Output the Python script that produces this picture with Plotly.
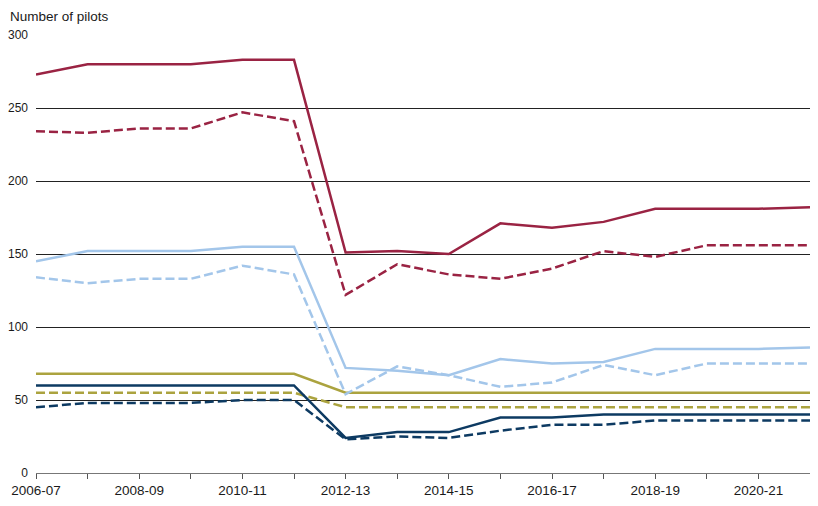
import plotly.graph_objects as go

years = ["2006-07", "2007-08", "2008-09", "2009-10", "2010-11", "2011-12", "2012-13", "2013-14",
         "2014-15", "2015-16", "2016-17", "2017-18", "2018-19", "2019-20", "2020-21", "2021-22"]
tick_text = [y if i % 2 == 0 else "" for i, y in enumerate(years)]

red_solid = [273, 280, 280, 280, 283, 283, 151, 152, 150, 171, 168, 172, 181, 181, 181, 182]
red_dash = [234, 233, 236, 236, 247, 241, 122, 143, 136, 133, 140, 152, 148, 156, 156, 156]
lblue_solid = [145, 152, 152, 152, 155, 155, 72, 70, 67, 78, 75, 76, 85, 85, 85, 86]
lblue_dash = [134, 130, 133, 133, 142, 136, 54, 73, 67, 59, 62, 74, 67, 75, 75, 75]
olive_solid = [68, 68, 68, 68, 68, 68, 55, 55, 55, 55, 55, 55, 55, 55, 55, 55]
olive_dash = [55, 55, 55, 55, 55, 55, 45, 45, 45, 45, 45, 45, 45, 45, 45, 45]
navy_solid = [60, 60, 60, 60, 60, 60, 24, 28, 28, 38, 38, 40, 40, 40, 40, 40]
navy_dash = [45, 48, 48, 48, 50, 50, 23, 25, 24, 29, 33, 33, 36, 36, 36, 36]

RED = "#9a2343"
LBLUE = "#a3c6ea"
OLIVE = "#aba33f"
NAVY = "#0d3a62"

series = [
    (olive_solid, OLIVE, "solid"),
    (olive_dash, OLIVE, "dash"),
    (navy_solid, NAVY, "solid"),
    (navy_dash, NAVY, "dash"),
    (lblue_solid, LBLUE, "solid"),
    (lblue_dash, LBLUE, "dash"),
    (red_solid, RED, "solid"),
    (red_dash, RED, "dash"),
]

fig = go.Figure()
for vals, col, dash in series:
    fig.add_trace(go.Scatter(x=years, y=vals, mode="lines",
                             line=dict(color=col, width=2.5, dash="9px,4px" if dash == "dash" else "solid"),
                             showlegend=False, hoverinfo="skip"))

fig.update_layout(
    width=810, height=498,
    margin=dict(l=28, r=8, t=27, b=33),
    plot_bgcolor="white", paper_bgcolor="white",
    font=dict(family="Liberation Sans, Arial, sans-serif", size=13, color="#1a1a1a"),
    xaxis=dict(
        type="category", range=[0, 15], automargin=False,
        tickmode="array", tickvals=years, ticktext=tick_text,
        ticks="outside", ticklen=5, tickcolor="#555555", tickwidth=1,
        showgrid=False, showline=True, linecolor="#777777", linewidth=1,
        tickfont=dict(size=13.5), zeroline=False,
    ),
    yaxis=dict(
        range=[0, 300], tickvals=[0, 50, 100, 150, 200, 250, 300], automargin=False,
        showgrid=True, gridcolor="#222222", gridwidth=1,
        zeroline=False, showline=False, ticks="", ticklabelstandoff=7,
        tickfont=dict(size=12),
    ),
)
fig.add_annotation(text="Number of pilots", xref="paper", yref="paper", x=0, y=1.0,
                   xshift=-28, yshift=9, xanchor="left", yanchor="bottom", showarrow=False,
                   font=dict(size=13.5, color="#1a1a1a"))

fig.write_html("out.html")
